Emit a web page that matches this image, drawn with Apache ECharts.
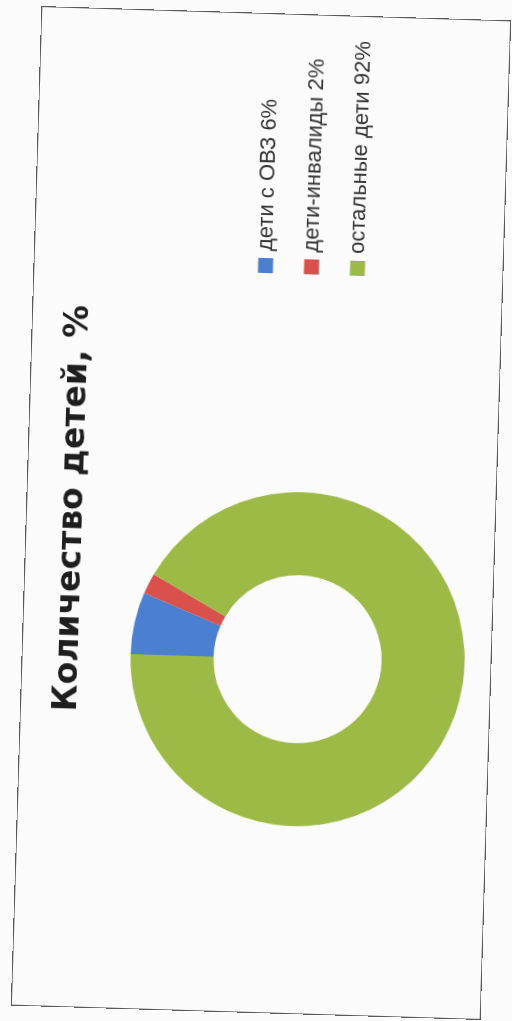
<!DOCTYPE html>
<html>
<head>
<meta charset="utf-8">
<script src="https://cdn.jsdelivr.net/npm/echarts@6/dist/echarts.min.js"></script>
<style>
  html, body { margin:0; padding:0; width:512px; height:1021px; overflow:hidden; background:#fbfbfb; }
  #wrap { position:absolute; left:-239px; top:278px; width:1000px; height:470px;
          transform: rotate(-88.25deg); transform-origin: 50% 50%; }
  #chart { position:absolute; left:0; top:0; width:1000px; height:470px; }
  #frame { position:absolute; left:0; top:0; width:1000px; height:470px; box-sizing:border-box;
           border:1.5px solid #5a5a5a; pointer-events:none; }
</style>
</head>
<body>
<div id="wrap"><div id="chart"></div><div id="frame"></div></div>
<script>
const titleText = 'Количество детей, %';
const categories = ['дети с ОВЗ 6%', 'дети-инвалиды 2%', 'остальные дети 92%'];
const values = [6, 2, 92];
const colors = ['#4a80cf', '#d9504c', '#9cba45'];

const chart = echarts.init(document.getElementById('chart'), null, { renderer: 'canvas' });
chart.setOption({
  animation: false,
  backgroundColor: 'transparent',
  color: colors,
  title: {
    text: titleText,
    left: 494, top: 26, textAlign: 'center',
    textStyle: { fontFamily: 'DejaVu Sans', fontWeight: 'bold', fontSize: 33, color: '#1e1e1e' }
  },
  legend: {
    orient: 'vertical', left: 735, top: 215,
    itemWidth: 15, itemHeight: 15, itemGap: 22,
    icon: 'rect',
    textStyle: { fontFamily: 'Liberation Sans', fontSize: 22, color: '#333', lineHeight: 24, padding: [0, 0, 0, 2] },
    data: categories
  },
  series: [{
    type: 'pie',
    center: [355, 276],
    radius: [84, 167],
    startAngle: 90,
    clockwise: true,
    label: { show: false },
    labelLine: { show: false },
    emphasis: { disabled: true },
    itemStyle: { borderWidth: 0 },
    data: categories.map((c, i) => ({ name: c, value: values[i] }))
  }]
});
</script>
</body>
</html>
